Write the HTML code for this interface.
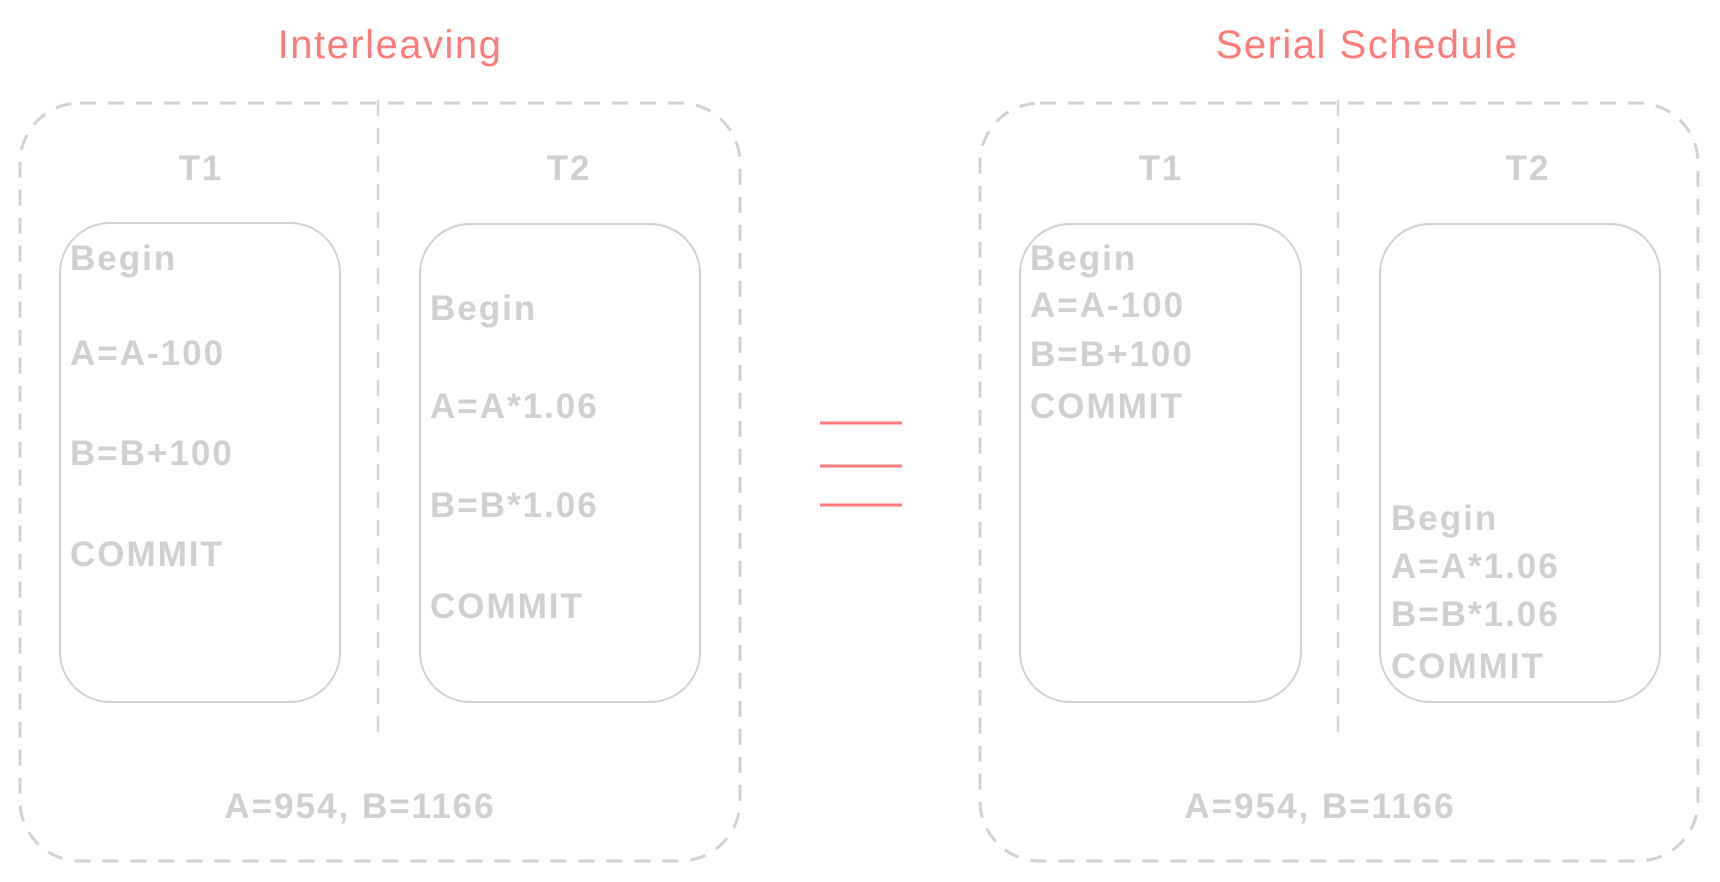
<!DOCTYPE html>
<html><head><meta charset="utf-8"><style>
html,body{margin:0;padding:0;background:#fff;}
svg{display:block;}
text{font-family:"Liberation Sans",sans-serif;}
.lbl{fill:#d0d0d0;font-size:35px;font-weight:bold;letter-spacing:2px;}
.ttl{fill:#ff7a7a;font-size:40px;letter-spacing:1.5px;}
</style></head><body>
<svg width="1720" height="882" viewBox="0 0 1720 882">
<g>
<text class="ttl" x="390" y="58" text-anchor="middle">Interleaving</text>
<rect x="20" y="103" width="720" height="758" rx="60" fill="none" stroke="#d2d2d2" stroke-width="3" stroke-dasharray="16 12"/>
<line x1="378" y1="100" x2="378" y2="735" stroke="#d2d2d2" stroke-width="2.5" stroke-dasharray="16 12"/>
<text class="lbl" x="201" y="180" text-anchor="middle">T1</text>
<text class="lbl" x="569" y="180" text-anchor="middle">T2</text>
<rect x="60" y="223" width="280" height="479" rx="50" fill="none" stroke="#d2d2d2" stroke-width="2"/>
<rect x="420" y="224" width="280" height="478" rx="50" fill="none" stroke="#d2d2d2" stroke-width="2"/>
<text class="lbl" x="70" y="270">Begin</text>
<text class="lbl" x="70" y="365">A=A-100</text>
<text class="lbl" x="70" y="465">B=B+100</text>
<text class="lbl" x="70" y="566">COMMIT</text>
<text class="lbl" x="430" y="320">Begin</text>
<text class="lbl" x="430" y="418">A=A*1.06</text>
<text class="lbl" x="430" y="517">B=B*1.06</text>
<text class="lbl" x="430" y="618">COMMIT</text>
<text class="lbl" x="360" y="818" text-anchor="middle">A=954, B=1166</text>
</g>
<g stroke="#ff7a7a" stroke-width="3">
<line x1="820" y1="423" x2="902" y2="423"/>
<line x1="820" y1="466" x2="902" y2="466"/>
<line x1="820" y1="505" x2="902" y2="505"/>
</g>
<g>
<text class="ttl" x="1367" y="58" text-anchor="middle">Serial Schedule</text>
<rect x="980" y="103" width="718" height="758" rx="60" fill="none" stroke="#d2d2d2" stroke-width="3" stroke-dasharray="16 12"/>
<line x1="1338" y1="100" x2="1338" y2="735" stroke="#d2d2d2" stroke-width="2.5" stroke-dasharray="16 12"/>
<text class="lbl" x="1161" y="180" text-anchor="middle">T1</text>
<text class="lbl" x="1528" y="180" text-anchor="middle">T2</text>
<rect x="1020" y="224" width="281" height="478" rx="50" fill="none" stroke="#d2d2d2" stroke-width="2"/>
<rect x="1380" y="224" width="280" height="478" rx="50" fill="none" stroke="#d2d2d2" stroke-width="2"/>
<text class="lbl" x="1030" y="270">Begin</text>
<text class="lbl" x="1030" y="317">A=A-100</text>
<text class="lbl" x="1030" y="366">B=B+100</text>
<text class="lbl" x="1030" y="418">COMMIT</text>
<text class="lbl" x="1391" y="530">Begin</text>
<text class="lbl" x="1391" y="578">A=A*1.06</text>
<text class="lbl" x="1391" y="626">B=B*1.06</text>
<text class="lbl" x="1391" y="678">COMMIT</text>
<text class="lbl" x="1320" y="818" text-anchor="middle">A=954, B=1166</text>
</g>
</svg>
</body></html>
